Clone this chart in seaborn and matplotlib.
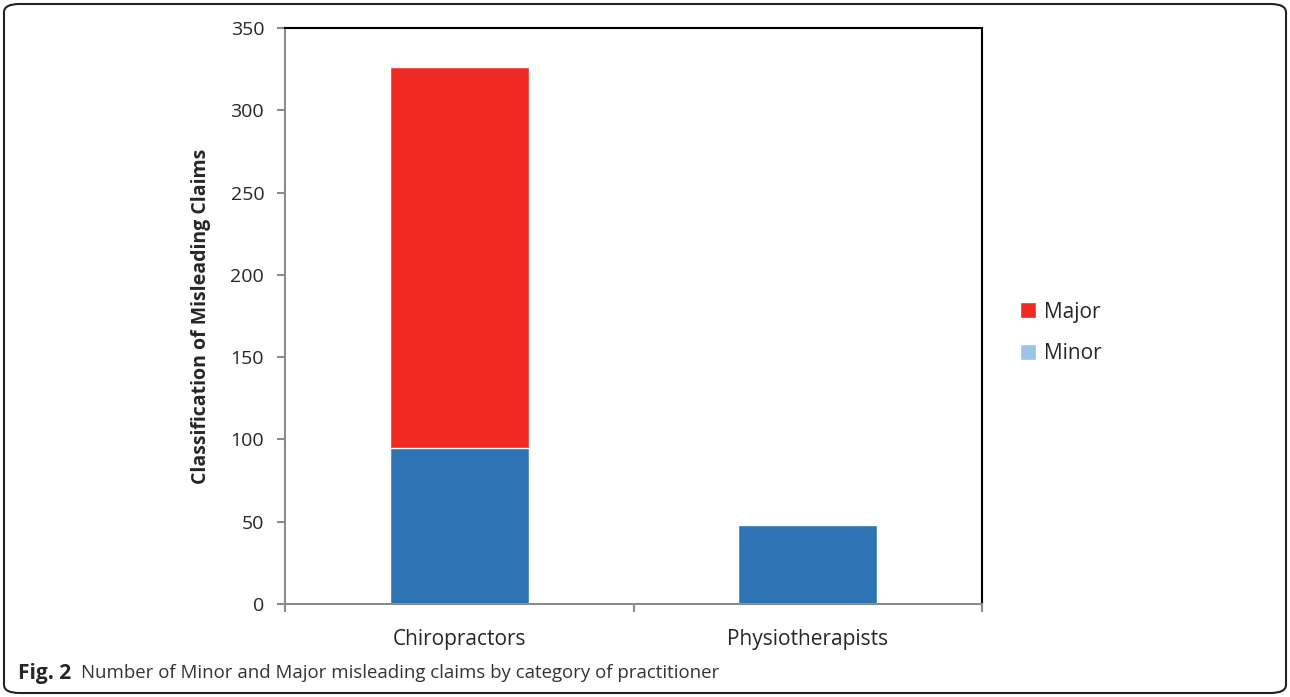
import matplotlib.pyplot as plt
import seaborn as sns
import pandas as pd
from matplotlib.patches import Patch, FancyBboxPatch

# Data
categories = ['Chiropractors', 'Physiotherapists']
minor_counts = [95, 48]
major_counts = [231, 0]

sns.set_style("white")
plt.rcParams['font.family'] = ['Open Sans', 'DejaVu Sans']

df = pd.DataFrame({'category': categories, 'minor': minor_counts, 'major': major_counts})
df['total'] = df['minor'] + df['major']

red = '#EE2A22'
blue = '#2E74B5'
legend_blue = '#9DC3E6'

fig = plt.figure(figsize=(12.9, 6.97), dpi=100)
ax = fig.add_axes([285 / 1290, 1 - 604 / 697, (982 - 285) / 1290, (604 - 28) / 697])

# stacked bars: total in red, minor drawn over it in blue
sns.barplot(data=df, x='category', y='total', color=red, width=0.4, saturation=1, ax=ax)
sns.barplot(data=df, x='category', y='minor', color=blue, width=0.4, saturation=1, ax=ax)

ax.set_xlim(-0.5, 1.5)
ax.set_ylim(0, 350)
ax.set_yticks(range(0, 351, 50))
ax.set_xticks([-0.5, 0.5, 1.5], minor=False)
ax.set_xticklabels([])
ax.set_xticks([0, 1], minor=True)
ax.set_xticklabels(categories, minor=True)
ax.tick_params(axis='x', which='major', bottom=True, length=6, width=1.5, color='#8c8c8c', direction='out')
ax.tick_params(axis='x', which='minor', bottom=True, length=0, pad=18, labelsize=15)
ax.tick_params(axis='y', left=True, length=6, width=1.5, color='#8c8c8c', direction='out', labelsize=14, pad=9)
ax.set_xlabel('')
ax.set_ylabel('Classification of Misleading Claims', fontsize=14, fontweight='bold', labelpad=14)

for side in ['left', 'bottom']:
    ax.spines[side].set_color('#8c8c8c')
    ax.spines[side].set_linewidth(1.5)
for side in ['top', 'right']:
    ax.spines[side].set_color('black')
    ax.spines[side].set_linewidth(1.5)

handles = [Patch(facecolor=red, label='Major'), Patch(facecolor=legend_blue, label='Minor')]
fig.legend(handles=handles, loc='center left', bbox_to_anchor=(1001 / 1290, 1 - 333 / 697),
           frameon=False, fontsize=15, handlelength=0.8, handleheight=0.8,
           handletextpad=0.35, labelspacing=1.0)

# rounded frame around the whole figure
frame = FancyBboxPatch((4 / 1290, 4 / 697), 1282 / 1290, 689 / 697,
                       boxstyle='round,pad=0,rounding_size=0.012',
                       transform=fig.transFigure, fill=False, edgecolor='#222222', linewidth=1.5)
fig.patches.append(frame)

fig.text(18 / 1290, 1 - 673 / 697, 'Fig. 2', fontsize=15, fontweight='bold', va='center')
fig.text(81 / 1290, 1 - 673 / 697, 'Number of Minor and Major misleading claims by category of practitioner',
         fontsize=13.4, va='center', color='#333333')

fig.savefig('out.png', dpi=100)
